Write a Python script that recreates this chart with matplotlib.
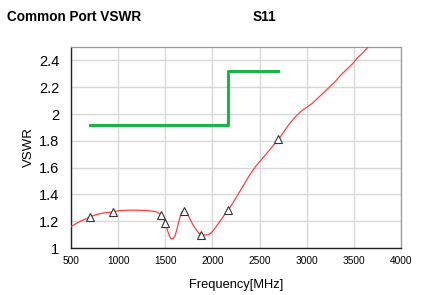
import matplotlib
matplotlib.use("Agg")
import matplotlib.pyplot as plt

plt.rcParams['font.family'] = ['Liberation Sans', 'DejaVu Sans']

# Red measured S11 trace
freq = [500, 550, 600, 650, 700, 750, 800, 850, 900, 950, 1000, 1100, 1200, 1300, 1400,
        1450, 1480, 1500, 1520, 1540, 1560, 1580, 1600, 1620, 1640, 1660, 1680, 1700,
        1720, 1750, 1780, 1810, 1840, 1870, 1900, 1930, 1960, 1990, 2020, 2060, 2100,
        2140, 2170, 2220, 2280, 2340, 2400, 2460, 2520, 2580, 2640, 2700, 2760, 2820,
        2880, 2940, 3000, 3060, 3120, 3180, 3240, 3300, 3360, 3420, 3480, 3540, 3600, 3650]
vswr = [1.16, 1.18, 1.20, 1.215, 1.23, 1.245, 1.255, 1.262, 1.266, 1.268, 1.278, 1.282,
        1.282, 1.28, 1.272, 1.25, 1.225, 1.19, 1.14, 1.095, 1.07, 1.068, 1.085, 1.13,
        1.19, 1.24, 1.27, 1.278, 1.27, 1.235, 1.19, 1.155, 1.125, 1.10, 1.098, 1.097,
        1.10, 1.115, 1.14, 1.18, 1.22, 1.26, 1.285, 1.34, 1.41, 1.48, 1.55, 1.61, 1.66,
        1.71, 1.76, 1.81, 1.87, 1.93, 1.98, 2.02, 2.05, 2.08, 2.12, 2.16, 2.20, 2.24,
        2.29, 2.33, 2.37, 2.42, 2.46, 2.50]

# Triangle markers
mark_freq = [700, 950, 1450, 1500, 1700, 1880, 2170, 2700]
mark_vswr = [1.232, 1.267, 1.25, 1.19, 1.278, 1.10, 1.285, 1.81]

# Green spec limit
spec_freq = [700, 2160, 2160, 2700]
spec_vswr = [1.92, 1.92, 2.32, 2.32]

xticks = [500, 1000, 1500, 2000, 2500, 3000, 3500, 4000]
yticks = [1, 1.2, 1.4, 1.6, 1.8, 2, 2.2, 2.4]
ytick_labels = ['1', '1.2', '1.4', '1.6', '1.8', '2', '2.2', '2.4']

fig = plt.figure(figsize=(4.22, 2.95), dpi=100)
ax = fig.add_axes([71/422, 1-248/295, 330/422, 201/295])

ax.plot(freq, vswr, color='#ff4040', lw=0.9, zorder=3)
ax.plot(mark_freq, mark_vswr, linestyle='none', marker='^', ms=5.5,
        mfc='white', mec='#333333', mew=0.8, zorder=4)
ax.plot(spec_freq, spec_vswr, color='#1db34a', lw=2.2, zorder=2)

ax.set_xlim(500, 4000)
ax.set_ylim(1, 2.5)
ax.set_xticks(xticks)
ax.set_xticklabels([str(t) for t in xticks], fontsize=7.3)
ax.set_yticks(yticks)
ax.set_yticklabels(ytick_labels, fontsize=10.5)
ax.tick_params(length=0)
ax.tick_params(axis='y', pad=8.5)
ax.tick_params(axis='x', pad=6)
ax.grid(True, color='#d8d8d8', lw=1.0)
ax.set_axisbelow(True)
for s in ['top', 'right']:
    ax.spines[s].set_color('#999999')
    ax.spines[s].set_linewidth(0.9)
for s in ['left', 'bottom']:
    ax.spines[s].set_color('#222222')
    ax.spines[s].set_linewidth(1.0)

ax.set_xlabel('Frequency[MHz]', fontsize=9.3, labelpad=9)
ax.set_ylabel('VSWR', fontsize=9.5, labelpad=3)

fig.text(7/422, 1-17/295, 'Common Port VSWR', fontsize=9.8, fontweight='bold', va='center')
fig.text(253/422, 1-17/295, 'S11', fontsize=9.8, fontweight='bold', va='center')

fig.savefig('out.png', dpi=100)
